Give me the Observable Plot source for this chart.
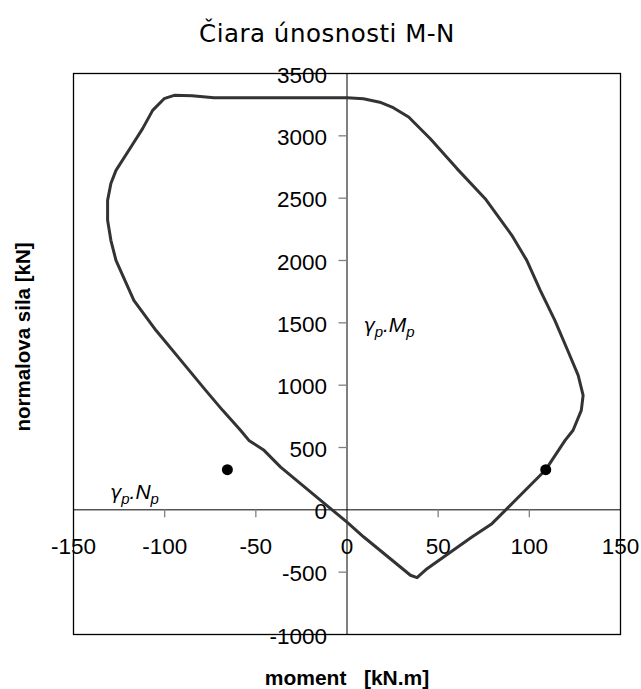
<!DOCTYPE html>
<html>
<head>
<meta charset="utf-8">
<script src="https://cdn.jsdelivr.net/npm/d3@7"></script>
<script src="https://cdn.jsdelivr.net/npm/@observablehq/plot@0.6"></script>
<style>
  body { margin: 0; background: #fff; }
  #title {
    width: 641px; height: 60px; box-sizing: border-box;
    padding-left: 13px; padding-top: 22px;
    text-align: center; font-family: "DejaVu Sans", sans-serif;
    font-size: 24.5px; line-height: 24px; letter-spacing: 0.5px; color: #000;
  }
</style>
</head>
<body>
<div id="title">Čiara únosnosti M-N</div>
<div id="chart"></div>
<script>
// Interaction curve (moment [kN.m], normal force [kN]) — closed loop
const moment = [-94.8, -85, -73, -40, 0, 9, 18, 24.7, 33.8, 45.7, 60.3, 75.8, 90.4, 98.6, 106, 114, 121, 126.8, 129.5, 128.5, 124, 119.6, 109, 86.8, 79.5, 68.5, 43.9, 38.4, 34.8, 9.2, 0, -9, -25.5, -36.4, -45.5, -53.8, -58.4, -68.2, -77.5, -91.1, -104.8, -116.9, -126.7, -129.5, -131.3, -131.3, -129.5, -126.7, -118.5, -112.1, -106.6, -100.3];
const sila   = [3325, 3322, 3305, 3305, 3306, 3298, 3270, 3231, 3151, 2977, 2737, 2496, 2202, 2001, 1761, 1520, 1280, 1079, 918, 798, 638, 557, 322, -4, -111, -218, -472, -544, -525, -218, -98, 10, 210, 343, 477, 557, 638, 798, 958, 1199, 1440, 1681, 2001, 2162, 2322, 2482, 2617, 2723, 2910, 3058, 3204, 3298];

// Load points
const pointMoment = [-65.6, 109];
const pointSila = [322, 322];

// Annotations
const labelText = ["γ_p.M_p", "γ_p.N_p"];
const labelMoment = [9, -130];
const labelSila = [1480, 140];

// Axes
const xTickLabels = [-150, -100, -50, 0, 50, 100, 150];
const yTickLabels = [-1000, -500, 0, 500, 1000, 1500, 2000, 2500, 3000, 3500];
const xTickMarks = [-100, -50, 50, 100];
const yTickMarks = [-500, 500, 1000, 1500, 2000, 2500, 3000];
const xTitle = "moment   [kN.m]";
const yTitle = "normalova sila [kN]";

const curve = moment.map((m, i) => ({m, n: sila[i]}));
const points = pointMoment.map((m, i) => ({m, n: pointSila[i]}));
const labels = labelText.map((t, i) => ({t, m: labelMoment[i], n: labelSila[i]}));

const chart = Plot.plot({
  width: 641,
  height: 629,
  marginLeft: 73,
  marginRight: 21,
  marginTop: 13,
  marginBottom: 55,
  style: {fontFamily: "'Liberation Sans', Arial, sans-serif", fontSize: "22px", background: "#fff", overflow: "visible"},
  x: {domain: [-150, 150], axis: null},
  y: {domain: [-1000, 3500], axis: null},
  marks: [
    Plot.ruleY([0], {stroke: "#000", strokeWidth: 1}),
    Plot.ruleX([0], {stroke: "#000", strokeWidth: 1}),
    Plot.ruleX(xTickMarks, {x: d => d, y1: 0, y2: 0, insetBottom: -8, stroke: "#808080", strokeWidth: 1.3}),
    Plot.ruleY(yTickMarks, {y: d => d, x1: 0, x2: 0, insetLeft: -8, stroke: "#808080", strokeWidth: 1.3}),
    Plot.text(yTickLabels, {x: 0, y: d => d, text: d => String(d), textAnchor: "end", dx: -20, dy: 2, fontSize: 22.5, fill: "#000"}),
    Plot.text(xTickLabels, {x: d => d, y: 0, text: d => String(d), dy: 37, fontSize: 22.5, fill: "#000"}),
    Plot.line(curve, {x: "m", y: "n", curve: "linear-closed", stroke: "#333", strokeWidth: 3, strokeLinejoin: "round"}),
    Plot.dot(points, {x: "m", y: "n", r: 5.5, fill: "#000", stroke: "none"}),
    Plot.text(labels, {x: "m", y: "n", text: "t", textAnchor: "start", fontSize: 21, fontStyle: "italic", fill: "#000"}),
    Plot.text([xTitle], {frameAnchor: "bottom", dy: 44, lineAnchor: "middle", textAnchor: "middle", text: d => d, fontWeight: "bold", fontSize: 21, fill: "#000"}),
    Plot.text([yTitle], {frameAnchor: "left", dx: -50, dy: -17, rotate: -90, lineAnchor: "middle", textAnchor: "middle", text: d => d, fontWeight: "bold", fontSize: 20.5, fill: "#000"}),
    Plot.frame({stroke: "#000", strokeWidth: 1.3})
  ]
});

// preserve spacing in axis titles, subscripts for annotation labels
d3.select(chart).selectAll("text").each(function() {
  const t = this.textContent;
  if (t === xTitle) { this.style.whiteSpace = "pre"; this.setAttribute("xml:space", "preserve"); return; }
  if (!t.includes("_")) return;
  const tokens = t.split(/_(.)/);
  this.textContent = "";
  let down = false;
  tokens.forEach((tok, i) => {
    if (!tok) return;
    const isSub = i % 2 === 1;
    const ts = d3.select(this).append("tspan").text(tok);
    if (tok === "γ") ts.attr("font-family", "'DejaVu Sans'").attr("font-size", 19);
    if (isSub && !down) { ts.attr("dy", 5).attr("font-size", 15); down = true; }
    else if (isSub) { ts.attr("font-size", 15); }
    else if (down) { ts.attr("dy", -5); down = false; }
  });
});

document.getElementById("chart").appendChild(chart);
</script>
</body>
</html>
